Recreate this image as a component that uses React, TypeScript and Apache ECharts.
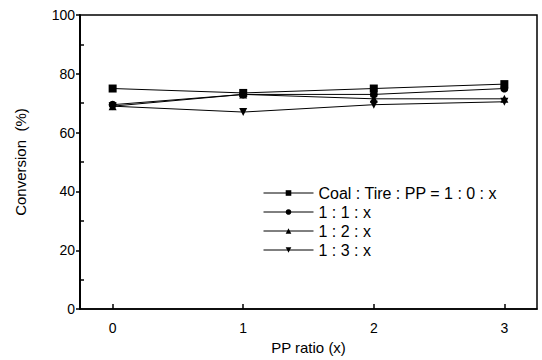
import React, { useEffect, useRef } from "react";
import * as echarts from "echarts";

const xValues = [0, 1, 2, 3];
const seriesNames = ["Coal : Tire : PP = 1 : 0 : x", "1 : 1 : x", "1 : 2 : x", "1 : 3 : x"];
const s10 = [75, 73.5, 75, 76.5];
const s11 = [69.5, 73, 73, 75];
const s12 = [69, 73, 71.5, 71.5];
const s13 = [69, 67, 69.5, 70.5];
const yTicks = [0, 20, 40, 60, 80, 100];
const yMinorTicks = [10, 30, 50, 70, 90];

const FONT = "'Liberation Sans', Arial, sans-serif";

export default function App() {
  const ref = useRef<HTMLDivElement>(null);
  useEffect(() => {
    if (!ref.current) return;
    const chart = echarts.init(ref.current, undefined, { renderer: "svg" });
    const symbols = ["rect", "circle", "triangle", "triangle"];
    const rotates = [0, 0, 0, 180];
    const sizes = [8, 8, 8, 8];
    const all = [s10, s11, s12, s13];
    chart.setOption({
      animation: false,
      backgroundColor: "#fff",
      grid: {
        left: 80, right: 5, top: 15, bottom: 47,
        show: true, borderColor: "#000", borderWidth: 1.5,
      },
      legend: {
        orient: "vertical",
        left: 258,
        top: 180,
        itemWidth: 50,
        itemHeight: 7,
        itemGap: 3,
        lineStyle: { width: 1 },
        textStyle: { fontFamily: FONT, fontSize: 16, color: "#000" },
        data: seriesNames,
      },
      xAxis: {
        type: "value",
        min: -0.25,
        max: 3.25,
        interval: 1,
        name: "PP ratio (x)",
        nameLocation: "middle",
        nameGap: 30,
        nameTextStyle: { fontFamily: FONT, fontSize: 15, color: "#000" },
        axisLine: { onZero: false, lineStyle: { color: "#000", width: 1.5 } },
        axisTick: { inside: true, length: 5, lineStyle: { color: "#000", width: 1.5 }, customValues: xValues },
        axisLabel: {
          fontFamily: FONT, fontSize: 14, color: "#000", margin: 12,
          customValues: xValues,
          formatter: (v: number) => String(v),
        },
        splitLine: { show: false },
      },
      yAxis: [
        {
          type: "value",
          min: 0,
          max: 100,
          interval: 20,
          name: "Conversion  (%)",
          nameLocation: "middle",
          nameGap: 52,
          nameRotate: 90,
          nameTextStyle: { fontFamily: FONT, fontSize: 15, color: "#000" },
          axisLine: { onZero: false, lineStyle: { color: "#000", width: 1.5 } },
          axisTick: { inside: false, length: 4, lineStyle: { color: "#000", width: 1.5 } },
          axisLabel: {
            fontFamily: FONT, fontSize: 14, color: "#000", margin: 5,
            formatter: (v: number) => (yTicks.includes(v) ? String(v) : ""),
          },
          splitLine: { show: false },
        },
        {
          type: "value",
          position: "left",
          min: 0,
          max: 100,
          interval: 10,
          axisLine: { show: true, onZero: false, lineStyle: { color: "#000", width: 1.5 } },
          axisTick: { show: true, inside: true, length: 4, lineStyle: { color: "#000", width: 1.5 }, customValues: yMinorTicks },
          axisLabel: { show: false },
          splitLine: { show: false },
        },
      ],
      series: all.map((d, i) => ({
        name: seriesNames[i],
        type: "line",
        yAxisIndex: i === 3 ? 1 : 0,
        data: d.map((v, j) => [xValues[j], v]),
        symbol: symbols[i],
        symbolRotate: rotates[i],
        symbolSize: sizes[i],
        showSymbol: true,
        lineStyle: { color: "#000", width: 1 },
        itemStyle: { color: "#000" },
      })),
    });
    return () => chart.dispose();
  }, []);
  return <div ref={ref} style={{ width: 542, height: 360, position: "absolute", left: 0, top: 0 }} />;
}
